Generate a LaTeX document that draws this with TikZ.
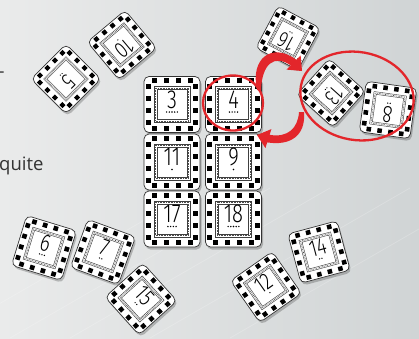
\documentclass[tikz,border=0pt]{standalone}
\usepackage{fontspec}
\setmainfont{Open Sans}
\newfontfamily\numfont{Fira Sans Light}
\usepackage{xcolor}
\definecolor{TileRed}{HTML}{E3262B}
\definecolor{BoardLight}{HTML}{EAEBEB}
\definecolor{BoardGrey}{HTML}{D0D4D5}
\definecolor{PageText}{HTML}{333333}
\usetikzlibrary{calc}

% #1 name, #2 x, #3 y, #4 angle, #5 scale, #6 number, #7 dots
\newcommand{\tile}[7]{%
  \begin{scope}[shift={(#2+1.5,#3+2.5)},rotate=#4,scale=#5]
    \fill[tileshadow] (-28,-28) rectangle (28,28);
  \end{scope}
  \begin{scope}[shift={(#2,#3)},rotate=#4,scale=#5,transform shape]
    \draw[tilebody] (-28,-28) rectangle (28,28);
    \foreach \k in {-1.5,-0.5,0.5,1.5}{
      \fill ({\k*12-2.5},-26.3) rectangle +(5,5);
      \fill ({\k*12-2.5},21.3) rectangle +(5,5);
      \fill (-26.3,{\k*12-2.5}) rectangle +(5,5);
      \fill (21.3,{\k*12-2.5}) rectangle +(5,5);
    }
    \draw[tileframe] (-18,-18) rectangle (18,18);
    \draw[tiledotted] (-16.6,-16.6) rectangle (16.6,16.6);
    \draw[tileframe] (-15.2,-15.2) rectangle (15.2,15.2);
    \node[tilenum] (#1) at (0,-5) {#6};
    \foreach \d in {1,...,#7}
      \fill ({(\d-(#7+1)/2)*2.7},7.5) circle (.8);
  \end{scope}}

\begin{document}
\begin{tikzpicture}[
  x=1pt,y=-1pt,
  tilebody/.style={draw=black!80,line width=.7pt,fill=white,rounded corners=5pt},
  tileframe/.style={draw=black!75,line width=.45pt},
  tiledotted/.style={draw=black!70,line width=.7pt,dash pattern=on .7pt off .9pt},
  tilenum/.style={font=\numfont\fontsize{26}{26}\selectfont,inner sep=0pt,xscale=.78},
  tileshadow/.style={fill=black,opacity=.22,rounded corners=5pt},
  streak/.style={draw=white,line width=.8pt,opacity=.2},
  redring/.style={draw=TileRed,line width=2.3pt},
  redarrow/.style={fill=TileRed},
  pagetext/.style={font=\fontsize{18.5}{22}\selectfont,text=PageText,inner sep=0pt}
]
  \useasboundingbox (0,0) rectangle (419,338);
  \shade[left color=BoardLight,right color=BoardGrey] (0,0) rectangle (419,338);
  \foreach \s in {-60,10,70,150,230}
    \draw[streak] (\s,338) -- ++(260,-150);

  \node[pagetext,anchor=base west] (dash) at (-1.5,77) {-};
  \node[pagetext,anchor=base west] (quite) at (-1,170) {quite};

  % loose tiles
  \tile{t10}{122}{45}{220}{.88}{10}{1}
  \tile{t5}{66}{79}{225}{.88}{5}{2}
  \tile{t16}{288}{38}{152}{.85}{16}{2}
  \tile{t13}{331}{93}{228}{.87}{13}{2}
  \tile{t8}{388}{110}{172}{.91}{8}{2}
  \tile{t6}{44}{248}{-17}{.93}{6}{3}
  \tile{t7}{103}{252}{-20}{.91}{7}{2}
  \tile{t15}{141}{299}{-48}{.91}{15}{2}
  \tile{t12}{266}{287}{35}{.91}{12}{1}
  \tile{t14}{319}{252}{15}{.91}{14}{2}

  % grid of six
  \tile{t3}{172}{104.5}{0}{1}{3}{5}
  \tile{t4}{233.5}{104.5}{0}{1}{4}{4}
  \tile{t11}{172}{162}{0}{1}{11}{1}
  \tile{t9}{233.5}{162}{0}{1}{9}{1}
  \tile{t17}{172}{219}{0}{1}{17}{4}
  \tile{t18}{233.5}{219}{0}{1}{18}{5}

  % swap marks
  \draw[redring] (233,103) ellipse (30 and 27.5);
  \draw[redring,rotate around={-10:(357,96)}] (357,96) ellipse (57 and 44);
  \fill[redarrow] (257,90) .. controls (250,58) and (272,42) .. (296.3,59.7)
    -- (300.6,55.4) -- (302,71) -- (286.4,69.6) -- (290.7,65.3)
    .. controls (274,54) and (262,64) .. (261,90) -- cycle;
  \fill[redarrow] (299,112) -- (304,112) .. controls (306,136) and (290,146) .. (267.2,142.4)
    -- (265.4,148.1) -- (257,135) -- (271.4,129.1) -- (269.6,134.8)
    .. controls (288,138) and (298,128) .. (299,112) -- cycle;
\end{tikzpicture}
\end{document}
